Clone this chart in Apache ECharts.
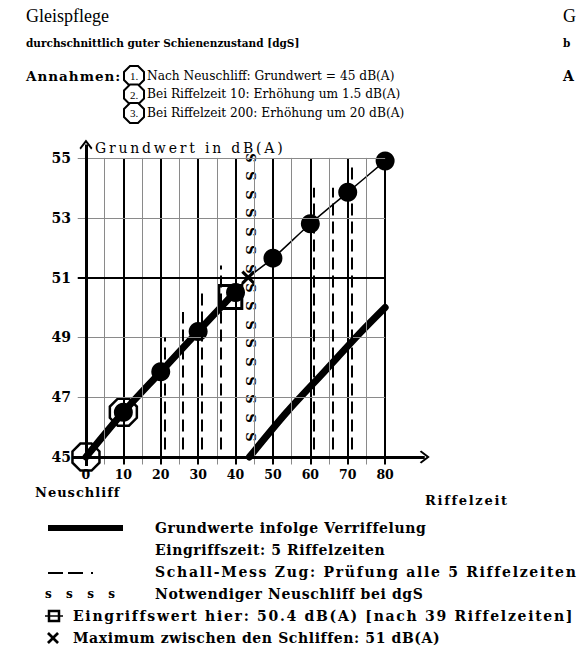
<!DOCTYPE html>
<html>
<head>
<meta charset="utf-8">
<script src="https://cdn.jsdelivr.net/npm/echarts@6/dist/echarts.min.js"></script>
<style>
  html, body { margin: 0; padding: 0; background: #fff; }
  #chart { width: 579px; height: 653px; }
  /* the original is typeset with generous tracking */
  #chart text[style*="t06"] { letter-spacing: 0.6px; }
  #chart text[style*="t10"] { letter-spacing: 1px; }
  #chart text[style*="t17"] { letter-spacing: 1.7px; }
  #chart text[style*="t20"] { letter-spacing: 2px; }
  #chart text[style*="t28"] { letter-spacing: 2.8px; }
</style>
</head>
<body>
<div id="chart"></div>
<script>
// axis ticks
const xTicks = [0, 10, 20, 30, 40, 50, 60, 70, 80]
const yTicks = [45, 47, 49, 51, 53, 55]
const majorX = [10, 20, 30, 40, 50, 60, 70, 80]
const minorX = [5, 15, 25, 35, 45, 55, 65, 75]
const minorY = [47, 49, 53, 55]
const majorY = [51]

// Grundwert curve, first cycle (thick up to the Eingriff, thin after)
const riseX = [0, 10, 20, 30, 39]
const riseY = [45, 46.5, 47.85, 49.2, 50.4]
const tailX = [39, 43.4, 50, 60, 70, 80]
const tailY = [50.4, 51, 51.65, 52.8, 53.85, 54.9]
// second cycle after Neuschliff
const nextX = [43.7, 53.7, 63.7, 73.7, 80]
const nextY = [45, 46.5, 47.85, 49.2, 50]

// points on the curve
const dotX = [10, 20, 30, 40, 50, 60, 70, 80]
const dotY = [46.5, 47.85, 49.2, 50.5, 51.65, 52.8, 53.85, 54.9]
const ringX = [0, 10]
const ringY = [45, 46.5]
const eingriff = [38.6, 50.35]
const maximum = [43.4, 51]

// Schall-Mess Zug checks
const checkX = [21, 26, 31, 36, 61, 66, 71]
const checkTop = [49, 49.85, 50.65, 51.4, 54, 54, 54.85]
const checkBottom = 45.25

// Neuschliff column
const grindX = 44
const grindY = [55, 54.4, 53.76, 53.16, 52.53, 51.92, 51.29, 50.65, 50.05, 49.41, 48.81, 48.18, 47.54, 46.94, 46.3, 45.67]

const octagon = 'path://M-0.383,-0.924L0.383,-0.924L0.924,-0.383L0.924,0.383L0.383,0.924L-0.383,0.924L-0.924,0.383L-0.924,-0.383Z'
const cross = 'path://M0 1.6L1.6 0L5 3.4L8.4 0L10 1.6L6.6 5L10 8.4L8.4 10L5 6.6L1.6 10L0 8.4L3.4 5Z'
const chevron = 'path://M0 0L6 7L4.8 8.2L0 2.6L-4.8 8.2L-6 7Z'

const lib = '"Liberation Serif", serif'
// DejaVu Serif with a tracking marker picked up by the css above
const dv = t => '"DejaVu Serif", ' + t + ', serif'

const thin = { color: '#8a8a8a', width: 1, type: 'solid' }
const thick = { color: '#000', width: 2, type: 'solid' }
const gridLines = []
minorX.forEach(x => gridLines.push([{ coord: [x, 44.75], lineStyle: thin }, { coord: [x, 55] }]))
majorX.forEach(x => gridLines.push([{ coord: [x, 44.75], lineStyle: thick }, { coord: [x, 55] }]))
minorY.forEach(y => gridLines.push([{ coord: [-2.2, y], lineStyle: thin }, { coord: [80, y] }]))
majorY.forEach(y => gridLines.push([{ coord: [-2.2, y], lineStyle: thick }, { coord: [80, y] }]))

const checkLines = checkX.map((x, i) => [{ coord: [x, checkBottom] }, { coord: [x, checkTop[i]] }])

function txt(x, y, text, font) {
  return { type: 'text', x: x, y: y, style: { text: text, font: font, fill: '#000', verticalAlign: 'middle' } }
}

const crossPts = [[0, 1.6], [1.6, 0], [5, 3.4], [8.4, 0], [10, 1.6], [6.6, 5], [10, 8.4], [8.4, 10], [5, 6.6], [1.6, 10], [0, 8.4], [3.4, 5]]

const chart = echarts.init(document.getElementById('chart'), null, { renderer: 'svg' })

chart.setOption({
  animation: false,
  backgroundColor: '#fff',
  color: ['#000'],
  grid: { left: 71, right: 149, top: 137, bottom: 184 },
  xAxis: {
    type: 'value', min: -4, max: 92,
    axisLine: { show: false }, axisTick: { show: false }, splitLine: { show: false },
    axisLabel: {
      customValues: xTicks, margin: -1,
      fontFamily: '"DejaVu Serif", serif', fontWeight: 'bold', fontSize: 12.5, color: '#000'
    }
  },
  yAxis: {
    type: 'value', min: 44.6, max: 55.7,
    axisLine: { show: false }, axisTick: { show: false }, splitLine: { show: false },
    axisLabel: {
      customValues: yTicks, margin: 0,
      fontFamily: '"DejaVu Serif", serif', fontWeight: 'bold', fontSize: 14, color: '#000'
    }
  },
  series: [
    {
      type: 'line', data: [], silent: true,
      markLine: { silent: true, symbol: 'none', label: { show: false }, data: gridLines }
    },
    {
      type: 'line', data: [], silent: true,
      markLine: {
        silent: true, symbol: 'none', label: { show: false },
        lineStyle: { color: '#000', width: 2, type: [12, 6] },
        data: checkLines
      }
    },
    {
      type: 'line', data: [], silent: true,
      markLine: {
        silent: true, symbol: ['none', chevron], symbolSize: [13, 10], label: { show: false },
        lineStyle: { color: '#000', width: 3, type: 'solid' },
        data: [
          [{ coord: [-3.6, 45] }, { coord: [90.6, 45] }],
          [{ coord: [0, 44.7] }, { coord: [0, 55.45] }]
        ]
      }
    },
    {
      // "S" marks of the necessary Neuschliff
      type: 'custom', silent: true,
      data: grindY.map(y => [grindX, y]),
      renderItem: (params, api) => {
        const p = api.coord([api.value(0), api.value(1)])
        return {
          type: 'text', x: p[0], y: p[1], rotation: -Math.PI / 2,
          style: {
            text: 'S', align: 'center', verticalAlign: 'middle',
            font: 'bold 13px "DejaVu Serif", serif', fill: '#000'
          }
        }
      }
    },
    {
      type: 'line', silent: true, smooth: 0.3, showSymbol: false,
      data: tailX.map((x, i) => [x, tailY[i]]),
      lineStyle: { color: '#000', width: 1.5 }
    },
    {
      type: 'line', silent: true, smooth: 0.3, showSymbol: false,
      data: riseX.map((x, i) => [x, riseY[i]]),
      lineStyle: { color: '#000', width: 7, cap: 'round' }
    },
    {
      type: 'line', silent: true, smooth: 0.3, showSymbol: false,
      data: nextX.map((x, i) => [x, nextY[i]]),
      lineStyle: { color: '#000', width: 7, cap: 'round' }
    },
    {
      type: 'scatter', silent: true, symbol: octagon, symbolSize: 27,
      data: ringX.map((x, i) => [x, ringY[i]]),
      itemStyle: { color: 'rgba(0,0,0,0)', borderColor: '#000', borderWidth: 2.5, opacity: 1 }
    },
    {
      type: 'scatter', silent: true, symbol: 'rect', symbolSize: 23,
      data: [eingriff],
      itemStyle: { color: '#fff', borderColor: '#000', borderWidth: 3, opacity: 1 }
    },
    {
      type: 'scatter', silent: true, symbol: 'circle', symbolSize: 19,
      data: dotX.map((x, i) => [x, dotY[i]]),
      itemStyle: { color: '#000', opacity: 1 }
    },
    {
      type: 'scatter', silent: true, symbol: cross, symbolSize: 14,
      data: [maximum],
      itemStyle: { color: '#000', opacity: 1 }
    }
  ],
  graphic: [
    txt(26, 16, 'Gleispflege', '18px ' + lib),
    txt(26, 43, 'durchschnittlich guter Schienenzustand [dgS]', 'bold 10.5px ' + dv('t00')),
    // edge of the neighbouring panel
    txt(563, 16, 'G', '18px ' + lib),
    txt(563, 43, 'b', 'bold 10.5px ' + dv('t00')),
    txt(563, 76, 'A', 'bold 14px ' + dv('t00')),
    txt(26, 76, 'Annahmen:', 'bold 13.5px ' + dv('t10')),
    ...['1.', '2.', '3.'].map((n, i) => ({
      type: 'group', x: 134, y: 76 + i * 18.5,
      children: [
        { type: 'polygon', shape: { points: [[-4, -10], [4, -10], [10, -4], [10, 4], [4, 10], [-4, 10], [-10, 4], [-10, -4]] }, style: { fill: '#fff', stroke: '#000', lineWidth: 2 } },
        { type: 'text', style: { text: n, x: 0, y: 0, align: 'center', verticalAlign: 'middle', font: '11px ' + lib, fill: '#000' } }
      ]
    })),
    txt(147, 76, 'Nach Neuschliff: Grundwert = 45 dB(A)', '12.2px ' + dv('t00')),
    txt(147, 94, 'Bei Riffelzeit 10: Erhöhung um 1.5 dB(A)', '12.2px ' + dv('t00')),
    txt(147, 113, 'Bei Riffelzeit 200: Erhöhung um 20 dB(A)', '12.2px ' + dv('t00')),
    txt(95, 148, 'Grundwert in dB(A)', '14px ' + dv('t28')),
    txt(35, 492, 'Neuschliff', 'bold 13px ' + dv('t10')),
    txt(425, 500, 'Riffelzeit', 'bold 13px ' + dv('t17')),
    // legend
    { type: 'rect', shape: { x: 48, y: 525, width: 75, height: 6 }, style: { fill: '#000' } },
    txt(155, 528, 'Grundwerte infolge Verriffelung', 'bold 14px ' + dv('t06')),
    txt(155, 550, 'Eingriffszeit: 5 Riffelzeiten', 'bold 14px ' + dv('t06')),
    { type: 'line', shape: { x1: 48, y1: 573, x2: 63, y2: 573 }, style: { stroke: '#000', lineWidth: 2 } },
    { type: 'line', shape: { x1: 68, y1: 573, x2: 83, y2: 573 }, style: { stroke: '#000', lineWidth: 2 } },
    { type: 'rect', shape: { x: 91, y: 572, width: 2, height: 2 }, style: { fill: '#000' } },
    txt(155, 572, 'Schall-Mess Zug: Prüfung alle 5 Riffelzeiten', 'bold 14px ' + dv('t17')),
    txt(45, 594, 's  s  s  s', 'bold 12px ' + dv('t20')),
    txt(155, 594, 'Notwendiger Neuschliff bei dgS', 'bold 14px ' + dv('t06')),
    { type: 'rect', shape: { x: 49, y: 611, width: 10, height: 10 }, style: { fill: '#fff', stroke: '#000', lineWidth: 2.5 } },
    { type: 'line', shape: { x1: 45, y1: 616, x2: 63, y2: 616 }, style: { stroke: '#000', lineWidth: 1.5 } },
    txt(73, 616, 'Eingriffswert hier: 50.4 dB(A) [nach 39 Riffelzeiten]', 'bold 14px ' + dv('t17')),
    { type: 'polygon', x: 47, y: 632, scaleX: 1.2, scaleY: 1.2, shape: { points: crossPts }, style: { fill: '#000' } },
    txt(73, 638, 'Maximum zwischen den Schliffen: 51 dB(A)', 'bold 14px ' + dv('t06'))
  ]
})
</script>
</body>
</html>
